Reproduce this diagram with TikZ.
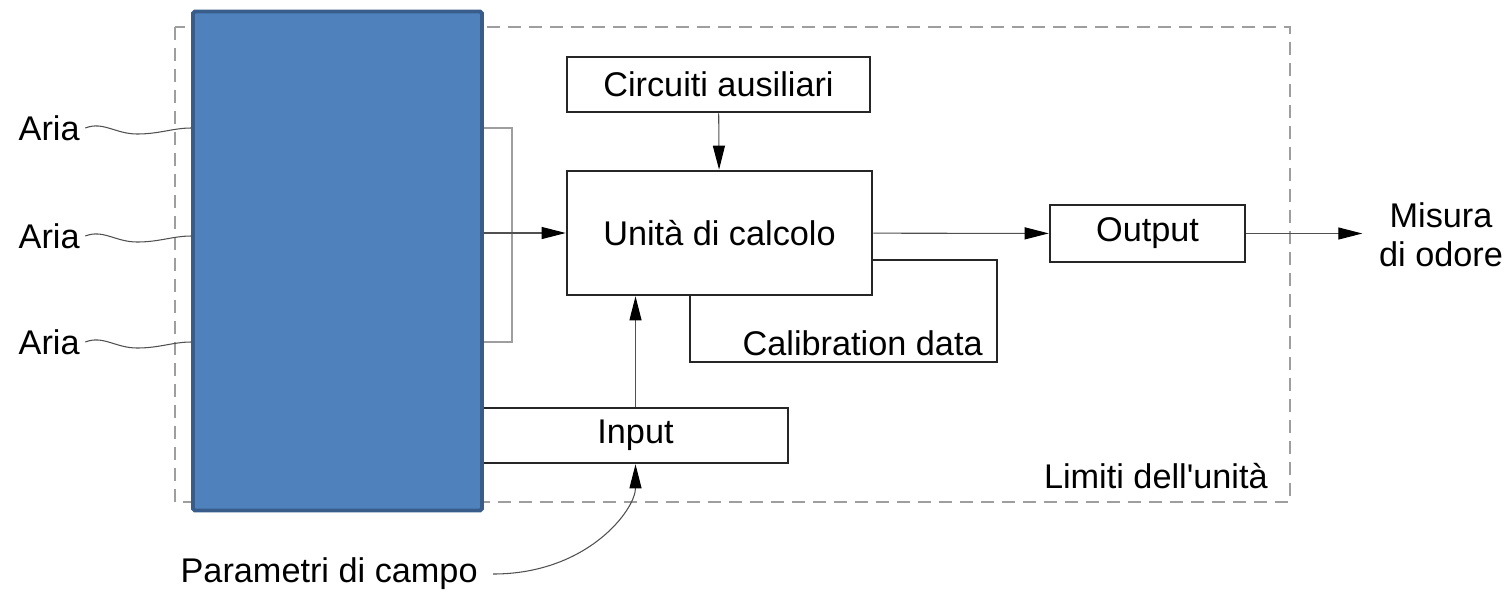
\documentclass[tikz,border=0pt]{standalone}
\usepackage{fontspec}
\setmainfont{Liberation Sans}
\usepackage{xcolor}
\usetikzlibrary{arrows.meta,calc}

\definecolor{bordo}{HTML}{9E9E9E}
\definecolor{blu}{HTML}{4F81BD}
\definecolor{blubordo}{HTML}{385D8A}
\definecolor{linea}{HTML}{505050}

\tikzset{
	blocco/.style={draw=black!85,line width=1.5pt,fill=white,inner sep=0pt},
	freccia/.style={draw=linea,line width=0.6pt,-{Triangle[length=0.48cm,width=0.24cm,color=black]}},
	filo/.style={draw=linea,line width=0.6pt},
	testo/.style={font=\fontsize{19.5}{23}\selectfont,inner sep=0pt}
}

\begin{document}
\begin{tikzpicture}[x=0.02cm,y=-0.02cm]
	\useasboundingbox (0,0) rectangle (1506,593);
	\draw[bordo,line width=1.1pt,dash pattern=on 0.26cm off 0.16cm] (175,27) rectangle (1290,502);
	
	\node[testo,anchor=base east] (limiti) at (1268,488) {Limiti dell\textquotesingle unità};
	
	\node[blocco,minimum width=6.14cm,minimum height=2.04cm] (calib) at (843.5,311) {};
	\node[testo,anchor=base east] (calibtxt) at (983,355) {Calibration data};
	\node[blocco,testo,minimum width=6.1cm,minimum height=2.48cm] (unita) at (719.5,233) {Unità di calcolo};
	\node[blocco,testo,minimum width=6.06cm,minimum height=1.1cm] (circ) at (718.5,84.5) {Circuiti ausiliari};
	\node[blocco,testo,minimum width=6.1cm,minimum height=1.1cm] (input) at (635.5,435.5) {Input};
	\node[blocco,testo,minimum width=3.9cm,minimum height=1.14cm] (output) at (1147.5,233.5) {Output};
	
	\node[draw=blubordo,fill=blu,line width=2.2pt,rounded corners=1pt,inner sep=0pt,
		minimum width=5.78cm,minimum height=9.98cm] (sensori) at (337.5,261) {};
	
	\node[testo,anchor=east] (a1) at (80,128) {Aria};
	\node[testo,anchor=east] (a2) at (80,236) {Aria};
	\node[testo,anchor=east] (a3) at (80,342) {Aria};
	\node[testo,anchor=east] (param) at (478,574) {Parametri di campo};
	\node[testo,align=center] (misura) at (1441,235) {Misura\\[-1pt]di odore};
	
	\foreach \a in {a1,a2,a3}
		\draw[filo] ([xshift=3pt]\a.east) .. controls +(18,-7) and +(-22,0) .. +(52,6)
			.. controls +(22,0) and +(-18,0) .. (\a.east -| sensori.west);
	
	\draw[bordo,line width=0.8pt] (a1 -| sensori.east) -- ++(28,0) |- (a3 -| sensori.east);
	\draw[freccia] (sensori.east |- unita) -- (unita.west);
	\draw[freccia] (circ) -- (unita);
	\draw[freccia] (input.north) -- (input.north |- unita.south);
	\draw[freccia] (unita) -- (output);
	\draw[freccia] (output.east) -- ++(116,0) coordinate (fine);
	\draw[freccia] ([xshift=0.3cm]param.east) .. controls +(95,0) and +(0,45) .. (input.south);
\end{tikzpicture}
\end{document}
